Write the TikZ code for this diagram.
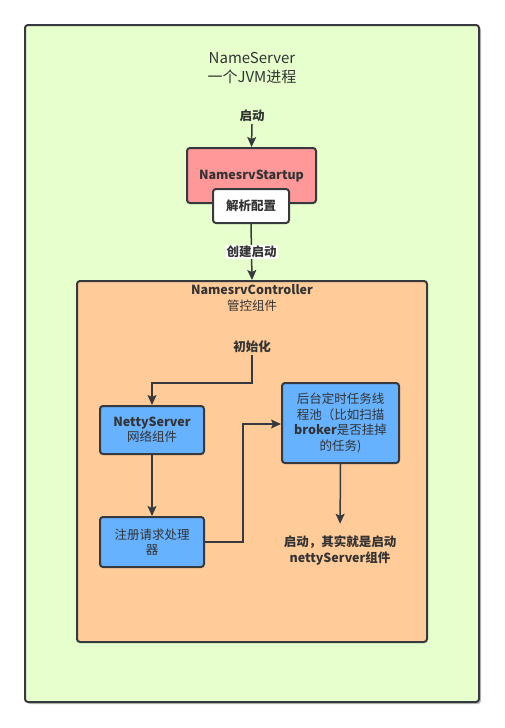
\documentclass[tikz,border=0pt]{standalone}
\usepackage{fontspec}
\setmainfont{Noto Sans CJK SC}
\usetikzlibrary{arrows.meta}
\definecolor{bordc}{HTML}{36393D}
\definecolor{txtc}{HTML}{333333}
\definecolor{greenbg}{HTML}{E6FFCC}
\definecolor{orangebg}{HTML}{FFCC99}
\definecolor{redbg}{HTML}{FF9999}
\definecolor{bluebg}{HTML}{66B2FF}
\tikzset{
  box/.style={draw=bordc, line width=2pt, rounded corners=3pt, align=center, inner sep=0pt, text=txtc},
  txt/.style={align=center, inner sep=2pt, text=txtc},
  bfont/.style={font=\fontsize{12.5}{15.5}\selectfont\bfseries},
  rfont/.style={font=\fontsize{12.5}{15.5}\selectfont},
  tfont/.style={font=\fontsize{15}{19}\selectfont},
  arr/.style={draw=bordc, line width=1.5pt, -{Stealth[length=10pt,width=9pt,inset=2pt]}},
}
\begin{document}
\begin{tikzpicture}[x=1pt,y=-1pt]
\useasboundingbox (0,0) rectangle (504,728);
% outer container
\fill[black!25, rounded corners=3pt] (27,27) rectangle (481,704);
\node[box, fill=greenbg, minimum width=454pt, minimum height=677pt] (outer) at (252,363.5) {};
\node[txt, tfont] (title) at (252,67.5) {NameServer\\一个JVM进程};
% controller container
\node[box, fill=orangebg, minimum width=350pt, minimum height=361pt] (ctrl) at (252,461.5) {};
\node[txt, bfont] (ctrltitle) at (252,298) {NamesrvController\\\mdseries 管控组件};
% startup
\node[txt, bfont] (start) at (252,116) {启动};
\node[box, bfont, fill=redbg, minimum width=129pt, minimum height=55pt, text depth=0pt] (startup) at (251.5,175.5) {\raisebox{1pt}{NamesrvStartup}};
\node[box, bfont, fill=white, minimum width=76pt, minimum height=34pt] (parse) at (251,206) {解析配置};
% inside controller
\node[txt, bfont] (init) at (252,347) {初始化};
\node[box, bfont, fill=bluebg, minimum width=104pt, minimum height=48pt] (netty) at (152,430) {NettyServer\\\mdseries 网络组件};
\node[box, rfont, fill=bluebg, minimum width=104pt, minimum height=50pt] (reg) at (152,542) {注册请求处理\\器};
\node[box, rfont, fill=bluebg, minimum width=117pt, minimum height=80pt] (bg) at (340.5,423) {后台定时任务线\\程池（比如扫描\\\textbf{broker}是否挂掉\\的任务)};
\node[txt, bfont] (endtxt) at (340,550.5) {启动，其实就是启动\\nettyServer组件};
% connectors
\coordinate (k1) at (252,383);
\coordinate (k2) at (243,424);
\draw[arr] (start.south) -- (startup.north);
\draw[arr] (parse.south) -- node[fill=white, inner sep=1pt, text=txtc, bfont] {创建启动} (ctrl.north);
\draw[arr] (init.south) -- (k1) -| (netty.north);
\draw[arr] (netty.south) -- (reg.north);
\draw[arr] (reg.east) -| (k2) -- (bg.west |- k2);
\draw[arr, shorten >=10pt] (bg.south) -- (endtxt.north);
\end{tikzpicture}
\end{document}
